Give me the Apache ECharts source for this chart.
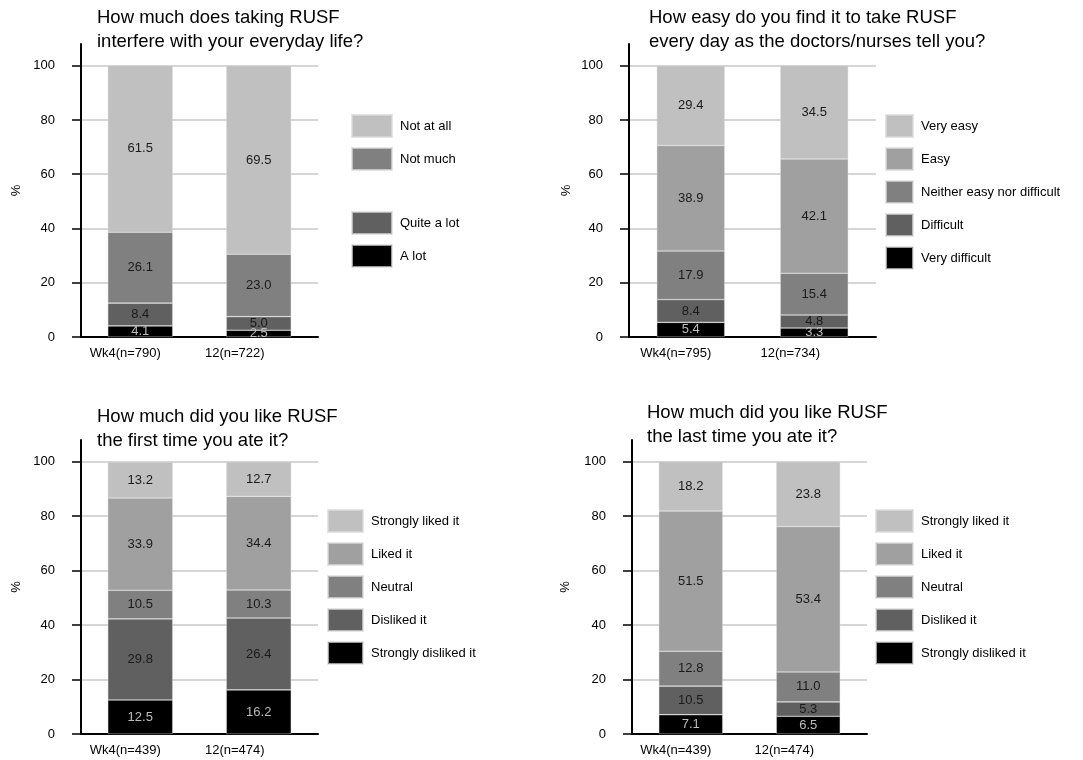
<!DOCTYPE html>
<html><head><meta charset="utf-8">
<script src="https://cdn.jsdelivr.net/npm/echarts@6/dist/echarts.min.js"></script>
<style>html,body{margin:0;padding:0;background:#fff}#c{width:1083px;height:760px}</style>
</head><body><div id="c"></div>
<script>
// ---------------- DATA ----------------
const yTicks = [0, 20, 40, 60, 80, 100];

// Panel 1: interference with everyday life (bottom -> top)
const catsInterfere = ['Wk4(n=790)', '12(n=722)'];
const namesInterfere = ['A lot', 'Quite a lot', ' ', 'Not much', 'Not at all'];
const interfereALot = [4.1, 2.5];
const interfereQuiteALot = [8.4, 5.0];
const interfereBlank = [null, null];
const interfereNotMuch = [26.1, 23.0];
const interfereNotAtAll = [61.5, 69.5];

// Panel 2: ease of taking RUSF daily
const catsEase = ['Wk4(n=795)', '12(n=734)'];
const namesEase = ['Very difficult', 'Difficult', 'Neither easy nor difficult', 'Easy', 'Very easy'];
const easeVeryDifficult = [5.4, 3.3];
const easeDifficult = [8.4, 4.8];
const easeNeither = [17.9, 15.4];
const easeEasy = [38.9, 42.1];
const easeVeryEasy = [29.4, 34.5];

// Panel 3: liking first time
const catsFirst = ['Wk4(n=439)', '12(n=474)'];
const namesLike = ['Strongly disliked it', 'Disliked it', 'Neutral', 'Liked it', 'Strongly liked it'];
const firstStronglyDisliked = [12.5, 16.2];
const firstDisliked = [29.8, 26.4];
const firstNeutral = [10.5, 10.3];
const firstLiked = [33.9, 34.4];
const firstStronglyLiked = [13.2, 12.7];

// Panel 4: liking last time
const catsLast = ['Wk4(n=439)', '12(n=474)'];
const lastStronglyDisliked = [7.1, 6.5];
const lastDisliked = [10.5, 5.3];
const lastNeutral = [12.8, 11.0];
const lastLiked = [51.5, 53.4];
const lastStronglyLiked = [18.2, 23.8];

// ---------------- STYLE / LAYOUT ----------------
const FONT = 'Liberation Sans, Arial, Helvetica, sans-serif';
const shadeColors = ['#000000', '#606060', '#808080', '#a0a0a0', '#c0c0c0'];
const interfereColors = ['#000000', '#606060', 'rgba(0,0,0,0)', '#808080', '#c0c0c0'];
const labelShiftPad = [30, 48]; // right padding per category label (shifts text left)

const panels = [
  { title: 'How much does taking RUSF\ninterfere with your everyday life?', titleLeft: 97, titleTop: 6,
    grid: {left: 81, top: 44, width: 237, height: 293}, nameGap: 58, barWidth: 65,
    legend: {left: 351, top: 114, w: 40},
    cats: catsInterfere, names: namesInterfere, colors: interfereColors,
    values: [interfereALot, interfereQuiteALot, interfereBlank, interfereNotMuch, interfereNotAtAll] },
  { title: 'How easy do you find it to take RUSF\nevery day as the doctors/nurses tell you?', titleLeft: 649, titleTop: 6,
    grid: {left: 629, top: 44, width: 247, height: 293}, nameGap: 56, barWidth: 68,
    legend: {left: 885, top: 114, w: 27},
    cats: catsEase, names: namesEase, colors: shadeColors,
    values: [easeVeryDifficult, easeDifficult, easeNeither, easeEasy, easeVeryEasy] },
  { title: 'How much did you like RUSF\nthe first time you ate it?', titleLeft: 97, titleTop: 405,
    grid: {left: 81, top: 440, width: 237, height: 294}, nameGap: 58, barWidth: 65,
    legend: {left: 327, top: 509, w: 35},
    cats: catsFirst, names: namesLike, colors: shadeColors,
    values: [firstStronglyDisliked, firstDisliked, firstNeutral, firstLiked, firstStronglyLiked] },
  { title: 'How much did you like RUSF\nthe last time you ate it?', titleLeft: 647, titleTop: 401,
    grid: {left: 632, top: 440, width: 235, height: 294}, nameGap: 60, barWidth: 64,
    legend: {left: 875, top: 509, w: 37},
    cats: catsLast, names: namesLike, colors: shadeColors,
    values: [lastStronglyDisliked, lastDisliked, lastNeutral, lastLiked, lastStronglyLiked] }
];

const option = {
  animation: false,
  backgroundColor: '#ffffff',
  textStyle: {fontFamily: FONT},
  title: [], grid: [], xAxis: [], yAxis: [], legend: [], series: []
};

panels.forEach((p, i) => {
  option.title.push({
    text: p.title, left: p.titleLeft, top: p.titleTop, padding: 0,
    textStyle: {fontFamily: FONT, fontSize: 18.5, fontWeight: 'normal', color: '#000', lineHeight: 24}
  });
  option.grid.push(Object.assign({containLabel: false}, p.grid));
  option.xAxis.push({
    type: 'category', gridIndex: i,
    data: p.cats.map((c, j) => ({value: c, textStyle: {padding: [0, labelShiftPad[j], 0, 0]}})),
    axisLine: {show: true, lineStyle: {color: '#000', width: 2}},
    axisTick: {show: false},
    axisLabel: {color: '#000', fontSize: 13, fontFamily: FONT, margin: 10},
    splitLine: {show: false}
  });
  option.yAxis.push({
    type: 'value', gridIndex: i, min: 0, max: 108, interval: 20,
    name: '%', nameLocation: 'middle', nameGap: p.nameGap,
    nameTextStyle: {color: '#000', fontSize: 13, fontFamily: FONT},
    axisLine: {show: true, lineStyle: {color: '#000', width: 2}},
    axisTick: {show: true, length: 9, customValues: yTicks, lineStyle: {color: '#000', width: 1.5}},
    axisLabel: {color: '#000', fontSize: 13, fontFamily: FONT, margin: 26, customValues: yTicks},
    splitLine: {show: true, lineStyle: {color: '#c8c8c8', width: 1.5}}
  });
  const legendData = p.names.slice().reverse().map((n) =>
    n.trim() === '' ? {name: n, itemStyle: {opacity: 0}} : {name: n});
  option.legend.push({
    orient: 'vertical', left: p.legend.left, top: p.legend.top, padding: 0,
    itemWidth: p.legend.w, itemHeight: 22, itemGap: 9, icon: 'rect',
    selectedMode: false,
    textStyle: {color: '#000', fontSize: 13, fontFamily: FONT, padding: [0, 0, 6, 3]},
    data: legendData
  });
  p.names.forEach((n, k) => {
    option.series.push({
      type: 'bar', name: n, xAxisIndex: i, yAxisIndex: i, stack: 'stack' + i,
      barWidth: p.barWidth,
      data: p.values[k],
      itemStyle: {color: p.colors[k], borderColor: 'rgba(220,220,220,0.7)', borderWidth: n.trim() === '' ? 0 : 0.6},
      label: {
        show: n.trim() !== '', position: 'inside', fontSize: 13, fontFamily: FONT,
        color: k === 0 ? '#bdbdbd' : '#1a1a1a',
        formatter: (d) => d.value == null ? '' : Number(d.value).toFixed(1)
      },
      emphasis: {disabled: true}
    });
  });
});

const chart = echarts.init(document.getElementById('c'), null, {renderer: 'canvas'});
chart.setOption(option);
</script>
</body></html>
